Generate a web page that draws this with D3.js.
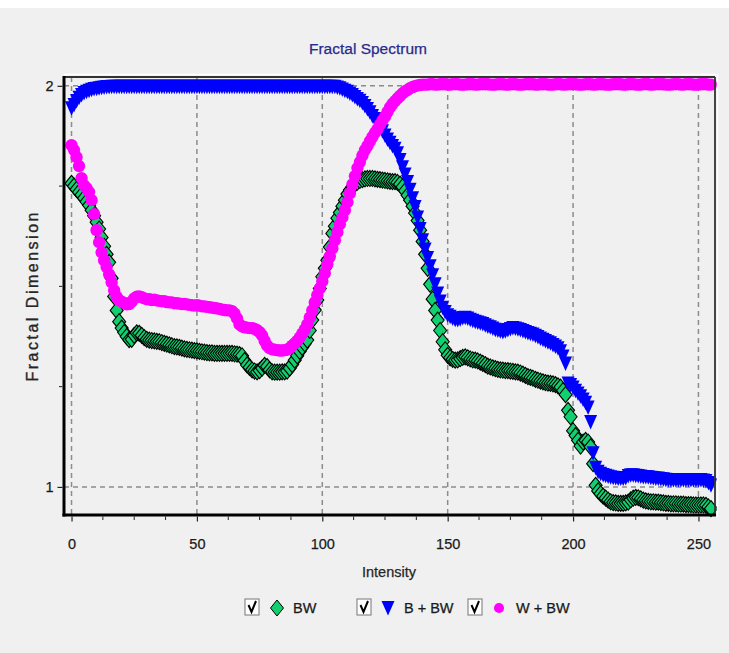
<!DOCTYPE html>
<html>
<head>
<meta charset="utf-8">
<script src="https://cdn.jsdelivr.net/npm/d3@7"></script>
<style>
body { margin:0; background:#ffffff; }
text { font-family: "Liberation Sans", Arial, sans-serif; }
</style>
</head>
<body>
<div id="chart"></div>
<script>
"use strict"

// intensity 0..255
var intensity = d3.range(0, 256);

// BW
var bw = [
1.757,1.750,1.742,1.735,1.728,1.720,1.711,1.702,1.690,1.676,
1.660,1.643,1.622,1.600,1.580,1.560,1.520,1.475,1.440,1.412,
1.396,1.385,1.375,1.367,1.368,1.378,1.384,1.383,1.378,1.372,
1.368,1.366,1.365,1.364,1.363,1.362,1.360,1.358,1.356,1.354,
1.352,1.350,1.349,1.348,1.346,1.344,1.343,1.342,1.341,1.340,
1.339,1.338,1.337,1.336,1.335,1.334,1.334,1.333,1.333,1.333,
1.333,1.333,1.333,1.333,1.333,1.332,1.331,1.330,1.327,1.315,
1.304,1.298,1.292,1.289,1.287,1.290,1.296,1.303,1.300,1.292,
1.287,1.286,1.286,1.286,1.287,1.287,1.289,1.296,1.305,1.316,
1.327,1.338,1.348,1.357,1.366,1.390,1.416,1.441,1.466,1.495,
1.524,1.545,1.565,1.598,1.632,1.650,1.670,1.684,1.700,1.715,
1.730,1.740,1.748,1.755,1.760,1.764,1.766,1.768,1.769,1.769,
1.769,1.768,1.767,1.766,1.765,1.764,1.763,1.762,1.761,1.761,
1.759,1.755,1.748,1.738,1.727,1.715,1.700,1.683,1.664,1.640,
1.612,1.580,1.545,1.505,1.468,1.440,1.416,1.390,1.362,1.342,
1.328,1.322,1.318,1.316,1.317,1.320,1.323,1.324,1.322,1.319,
1.317,1.316,1.314,1.311,1.308,1.305,1.301,1.299,1.297,1.295,
1.293,1.292,1.291,1.290,1.290,1.289,1.288,1.287,1.286,1.284,
1.281,1.278,1.275,1.273,1.271,1.268,1.266,1.264,1.262,1.260,
1.259,1.258,1.257,1.255,1.252,1.249,1.240,1.230,1.191,1.175,
1.140,1.128,1.116,1.102,1.112,1.116,1.112,1.100,1.058,1.004,
0.990,0.983,0.977,0.972,0.967,0.963,0.961,0.960,0.959,0.959,
0.959,0.960,0.962,0.968,0.972,0.974,0.973,0.970,0.967,0.965,
0.964,0.963,0.963,0.962,0.962,0.961,0.960,0.959,0.959,0.958,
0.958,0.958,0.957,0.957,0.957,0.956,0.956,0.956,0.955,0.955,
0.955,0.955,0.955,0.954,0.950,0.946
];

// B + BW
var b_bw = [
1.944,1.952,1.962,1.970,1.977,1.982,1.985,1.988,1.990,1.992,
1.993,1.994,1.995,1.996,1.997,1.997,1.998,1.998,1.998,1.998,
1.998,1.998,1.998,1.998,1.998,1.998,1.998,1.998,1.998,1.998,
1.998,1.998,1.998,1.998,1.998,1.998,1.998,1.998,1.998,1.998,
1.998,1.998,1.998,1.998,1.998,1.998,1.998,1.998,1.998,1.998,
1.998,1.998,1.998,1.998,1.998,1.998,1.998,1.998,1.998,1.998,
1.998,1.998,1.998,1.998,1.998,1.998,1.998,1.998,1.998,1.998,
1.998,1.998,1.998,1.998,1.998,1.998,1.998,1.998,1.998,1.998,
1.998,1.998,1.998,1.998,1.998,1.998,1.998,1.998,1.998,1.998,
1.998,1.998,1.998,1.998,1.998,1.998,1.998,1.998,1.998,1.998,
1.998,1.998,1.998,1.998,1.998,1.998,1.996,1.994,1.991,1.988,
1.985,1.981,1.977,1.972,1.967,1.963,1.957,1.950,1.942,1.934,
1.925,1.917,1.908,1.898,1.887,1.876,1.866,1.858,1.850,1.843,
1.832,1.815,1.797,1.779,1.760,1.741,1.720,1.698,1.672,1.643,
1.615,1.592,1.571,1.550,1.528,1.505,1.482,1.462,1.447,1.436,
1.428,1.424,1.420,1.417,1.416,1.418,1.421,1.422,1.420,1.417,
1.414,1.412,1.410,1.408,1.406,1.403,1.400,1.398,1.395,1.392,
1.390,1.388,1.386,1.388,1.391,1.394,1.396,1.395,1.393,1.391,
1.389,1.386,1.384,1.382,1.380,1.377,1.374,1.370,1.367,1.364,
1.361,1.358,1.354,1.350,1.346,1.338,1.325,1.308,1.258,1.254,
1.248,1.240,1.233,1.226,1.218,1.210,1.198,1.162,1.084,1.048,
1.038,1.033,1.030,1.028,1.026,1.024,1.023,1.022,1.021,1.021,
1.021,1.022,1.027,1.029,1.029,1.028,1.027,1.026,1.025,1.025,
1.024,1.023,1.022,1.021,1.021,1.020,1.019,1.018,1.017,1.017,
1.017,1.017,1.017,1.017,1.017,1.017,1.017,1.017,1.017,1.017,
1.017,1.017,1.016,1.015,1.010,1.004
];

// W + BW
var w_bw = [
1.852,1.840,1.822,1.800,1.770,1.752,1.745,1.735,1.715,1.680,
1.640,1.610,1.585,1.565,1.548,1.530,1.510,1.490,1.474,1.465,
1.462,1.458,1.455,1.456,1.462,1.470,1.474,1.475,1.473,1.470,
1.468,1.468,1.466,1.467,1.465,1.464,1.463,1.463,1.461,1.460,
1.460,1.458,1.458,1.457,1.456,1.456,1.455,1.454,1.453,1.452,
1.453,1.452,1.450,1.450,1.449,1.448,1.447,1.446,1.445,1.444,
1.442,1.441,1.440,1.440,1.438,1.432,1.420,1.405,1.400,1.398,
1.397,1.396,1.396,1.394,1.391,1.386,1.378,1.364,1.352,1.346,
1.343,1.342,1.341,1.340,1.340,1.341,1.342,1.346,1.352,1.358,
1.364,1.372,1.382,1.392,1.405,1.422,1.440,1.460,1.478,1.495,
1.513,1.533,1.555,1.575,1.595,1.615,1.635,1.655,1.672,1.690,
1.710,1.732,1.754,1.775,1.795,1.810,1.826,1.840,1.850,1.862,
1.873,1.883,1.892,1.903,1.914,1.923,1.935,1.946,1.955,1.962,
1.969,1.975,1.981,1.986,1.990,1.994,1.997,1.999,2.001,2.002,
2.003,2.003,2.003,2.004,2.004,2.003,2.003,2.004,2.004,2.004,
2.003,2.003,2.004,2.004,2.004,2.003,2.003,2.003,2.004,2.004,
2.004,2.003,2.003,2.004,2.004,2.004,2.004,2.003,2.003,2.003,
2.004,2.004,2.004,2.003,2.003,2.004,2.004,2.004,2.003,2.003,
2.003,2.004,2.004,2.004,2.004,2.003,2.003,2.004,2.004,2.004,
2.003,2.003,2.003,2.004,2.004,2.004,2.003,2.003,2.004,2.004,
2.004,2.004,2.003,2.003,2.003,2.004,2.004,2.004,2.003,2.003,
2.004,2.004,2.004,2.003,2.003,2.003,2.004,2.004,2.004,2.004,
2.003,2.003,2.004,2.004,2.004,2.003,2.003,2.003,2.004,2.004,
2.004,2.003,2.003,2.004,2.004,2.004,2.004,2.003,2.003,2.003,
2.004,2.004,2.004,2.003,2.003,2.004,2.004,2.004,2.003,2.003,
2.003,2.004,2.004,2.004,2.003,2.003
];

var series_names = ["BW", "B + BW", "W + BW"];
var x_ticks = [0, 50, 100, 150, 200, 250];
var y_ticks = [1, 2];

var width = 729,
	height = 653;

var plot = {left:64, top:77, right:715, bottom:515};

var svg = d3.select("#chart").append("svg")
	.attr("width", width)
	.attr("height", height);

svg.append("rect")
	.attr("x", 0).attr("y", 8)
	.attr("width", width).attr("height", height - 8)
	.attr("fill", "#f0f0f0");

var xscale = d3.scaleLinear()
	.domain([-3, 256.6])
	.range([plot.left, plot.right]);

var yscale = d3.scaleLinear()
	.domain([0.93, 2.022])
	.range([plot.bottom, plot.top]);

// grid
var grid = svg.append("g")
	.attr("stroke", "#8c8c8c")
	.attr("stroke-width", 1.5)
	.attr("stroke-dasharray", "5,4");

grid.selectAll("line.gx").data(x_ticks).enter().append("line")
	.attr("x1", function(d) {return xscale(d)})
	.attr("x2", function(d) {return xscale(d)})
	.attr("y1", plot.top)
	.attr("y2", plot.bottom);

grid.selectAll("line.gy").data(y_ticks).enter().append("line")
	.attr("x1", plot.left)
	.attr("x2", plot.right)
	.attr("y1", function(d) {return yscale(d)})
	.attr("y2", function(d) {return yscale(d)});

// markers
var diamond = {
	draw: function(ctx, size) {
		var w = 6.5, h = 8;
		ctx.moveTo(0, -h); ctx.lineTo(w, 0); ctx.lineTo(0, h); ctx.lineTo(-w, 0); ctx.closePath();
	}
};
var tri_down = {
	draw: function(ctx, size) {
		ctx.moveTo(-6.5, -7); ctx.lineTo(6.5, -7); ctx.lineTo(0, 7.5); ctx.closePath();
	}
};

var layers = [
	{values: bw, sym: diamond, fill: "#12d070", stroke: "#000000"},
	{values: b_bw, sym: tri_down, fill: "#0000ff", stroke: "none"},
	{values: w_bw, sym: d3.symbolCircle, fill: "#ff00ff", stroke: "none"}
];

layers.forEach(function(l) {
	var gen = l.sym === d3.symbolCircle ? d3.symbol(l.sym, 120) : d3.symbol(l.sym);
	svg.append("g").selectAll("path").data(intensity).enter().append("path")
		.attr("transform", function(d) {return "translate(" + xscale(d) + "," + yscale(l.values[d]) + ")"})
		.attr("d", gen())
		.attr("fill", l.fill)
		.attr("stroke", l.stroke)
		.attr("stroke-width", 1.1);
});

// frame
svg.append("line").attr("x1", plot.left).attr("x2", plot.right + 1).attr("y1", plot.top - 2.5).attr("y2", plot.top - 2.5)
	.attr("stroke", "#ffffff").attr("stroke-width", 1.5);
svg.append("line").attr("x1", plot.left).attr("x2", plot.right).attr("y1", plot.top).attr("y2", plot.top)
	.attr("stroke", "#333333").attr("stroke-width", 1.8);
svg.append("line").attr("x1", plot.right).attr("x2", plot.right).attr("y1", plot.top).attr("y2", plot.bottom)
	.attr("stroke", "#333333").attr("stroke-width", 1.8);
svg.append("line").attr("x1", plot.right + 2.5).attr("x2", plot.right + 2.5).attr("y1", plot.top - 3).attr("y2", plot.bottom + 2)
	.attr("stroke", "#ffffff").attr("stroke-width", 1.5);
svg.append("line").attr("x1", plot.left).attr("x2", plot.left).attr("y1", plot.top - 1).attr("y2", plot.bottom + 1.5)
	.attr("stroke", "#000").attr("stroke-width", 3);
svg.append("line").attr("x1", plot.left - 1.5).attr("x2", plot.right + 1).attr("y1", plot.bottom).attr("y2", plot.bottom)
	.attr("stroke", "#000").attr("stroke-width", 3);

// axes
var x_minor = d3.range(0, 256, 12.5).filter(function(d) {return x_ticks.indexOf(d) < 0});
var xaxis = svg.append("g").attr("transform", "translate(0," + (plot.bottom + 1.5) + ")");
xaxis.call(d3.axisBottom(xscale).tickValues(x_ticks).tickSize(5).tickPadding(17).tickFormat(d3.format("d")));
xaxis.selectAll(".tick line").attr("stroke", "#222").attr("stroke-width", 1.2);
xaxis.select(".domain").remove();
xaxis.selectAll(".tick line.minor").data(x_minor).enter().append("line")
	.attr("x1", function(d) {return xscale(d)})
	.attr("x2", function(d) {return xscale(d)})
	.attr("y1", 0).attr("y2", 3.5)
	.attr("stroke", "#222").attr("stroke-width", 1);

var y_minor = [1.25, 1.5, 1.75];
var yaxis = svg.append("g").attr("transform", "translate(" + (plot.left - 1.5) + ",0)");
yaxis.call(d3.axisLeft(yscale).tickValues(y_ticks).tickSize(5).tickPadding(4).tickFormat(d3.format("d")));
yaxis.selectAll(".tick line").attr("stroke", "#222").attr("stroke-width", 1.2);
yaxis.select(".domain").remove();
yaxis.selectAll("line.minor").data(y_minor).enter().append("line")
	.attr("x1", 0).attr("x2", -3.5)
	.attr("y1", function(d) {return yscale(d)})
	.attr("y2", function(d) {return yscale(d)})
	.attr("stroke", "#222").attr("stroke-width", 1);

svg.selectAll(".tick text")
	.attr("font-family", "'Liberation Sans', Arial, sans-serif")
	.attr("font-size", 14.5)
	.attr("fill", "#1a1a1a")
	.attr("stroke", "#1a1a1a")
	.attr("stroke-width", 0.25);

// titles
svg.append("text")
	.attr("x", 368).attr("y", 54)
	.attr("text-anchor", "middle")
	.attr("font-size", 15.5)
	.attr("fill", "#2a2a8c")
	.attr("stroke", "#2a2a8c")
	.attr("stroke-width", 0.25)
	.text("Fractal Spectrum");

svg.append("text")
	.attr("transform", "translate(38,297) rotate(-90)")
	.attr("text-anchor", "middle")
	.attr("font-size", 16)
	.attr("fill", "#262626")
	.attr("stroke", "#262626")
	.attr("stroke-width", 0.35)
	.attr("textLength", 169)
	.attr("lengthAdjust", "spacing")
	.text("Fractal Dimension");

svg.append("text")
	.attr("x", 389).attr("y", 577)
	.attr("text-anchor", "middle")
	.attr("font-size", 14.5)
	.attr("fill", "#262626")
	.attr("stroke", "#262626")
	.attr("stroke-width", 0.25)
	.text("Intensity");

// legend
var legend_x = [{box:245, mark:277, text:293}, {box:357, mark:388, text:404}, {box:468, mark:499, text:516}];
var legend = svg.append("g");
legend_x.forEach(function(p, i) {
	var g = legend.append("g");
	g.append("rect").attr("x", p.box).attr("y", 599).attr("width", 14).attr("height", 16)
		.attr("fill", "#ffffff").attr("stroke", "#8a8a8a").attr("stroke-width", 1.2);
	g.append("path").attr("d", "M" + (p.box + 3.5) + ",605 L" + (p.box + 6.5) + ",612 L" + (p.box + 11) + ",601")
		.attr("fill", "none").attr("stroke", "#000").attr("stroke-width", 2);
	var l = layers[i];
	var gen = l.sym === d3.symbolCircle ? d3.symbol(l.sym, 80) : d3.symbol(l.sym);
	g.append("path")
		.attr("transform", "translate(" + p.mark + ",608)")
		.attr("d", gen())
		.attr("fill", l.fill)
		.attr("stroke", l.stroke)
		.attr("stroke-width", 1);
	g.append("text").attr("x", p.text).attr("y", 613)
		.attr("font-size", 14.5).attr("fill", "#1a1a1a")
		.attr("stroke", "#1a1a1a").attr("stroke-width", 0.25)
		.text(series_names[i]);
});
</script>
</body>
</html>
